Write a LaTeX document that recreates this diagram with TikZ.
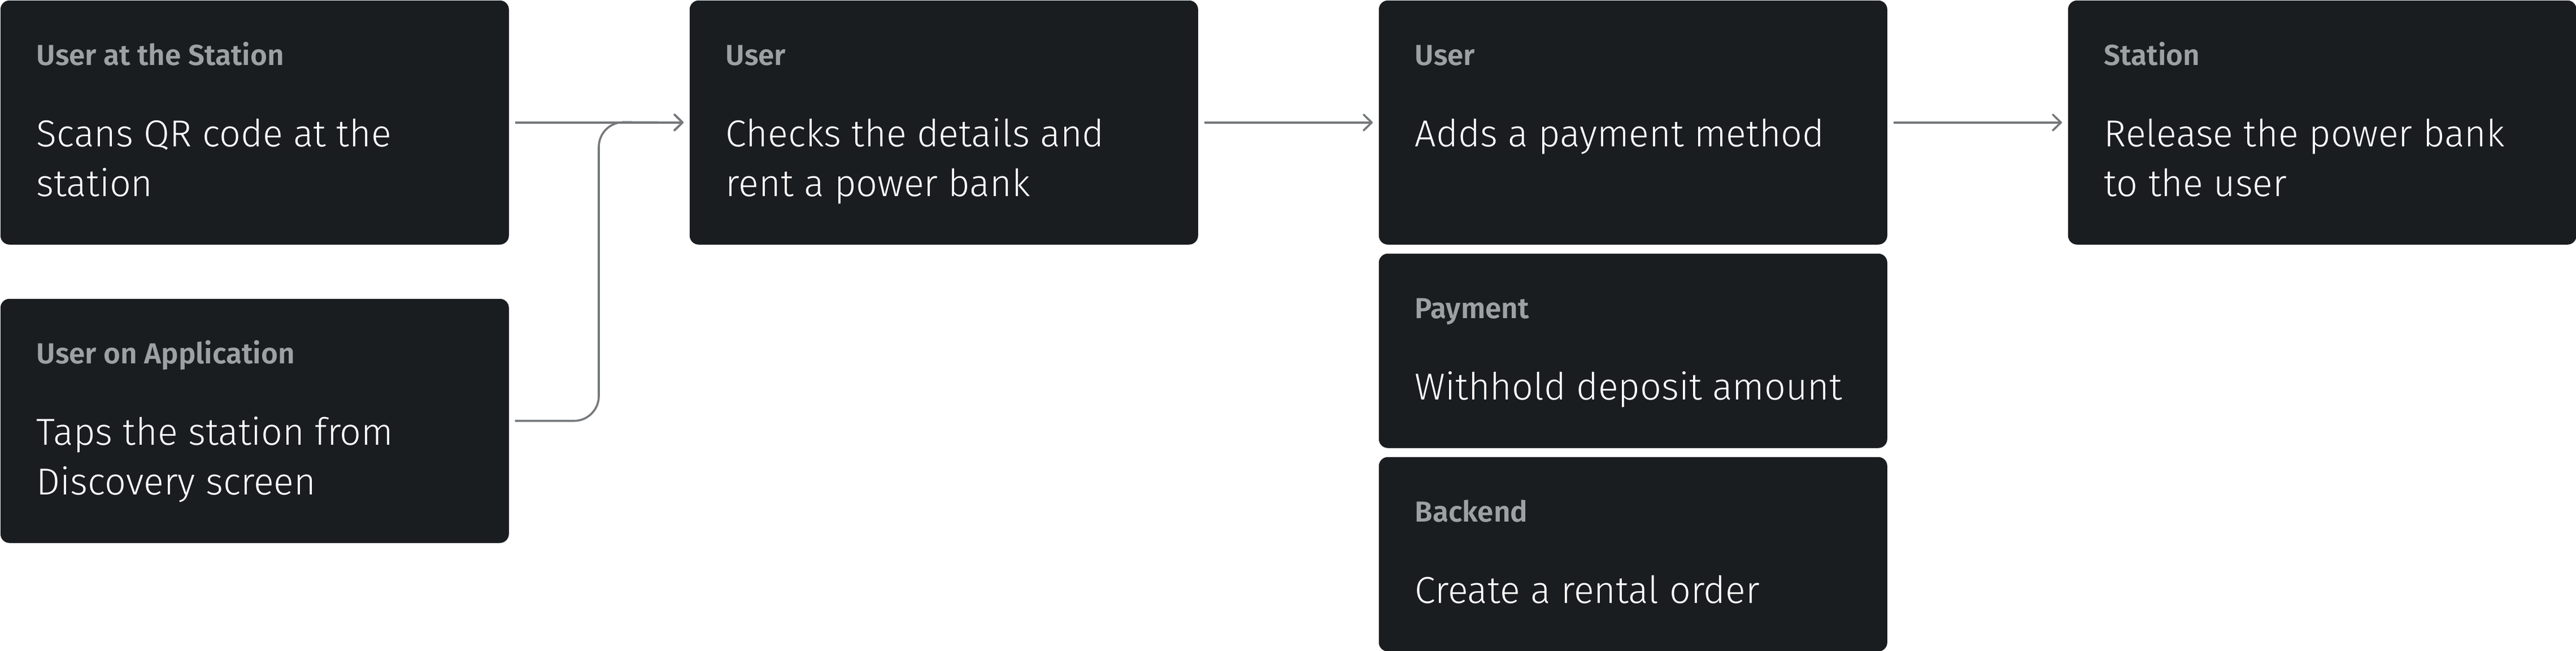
\documentclass[tikz,border=0pt]{standalone}
\usepackage{fontspec}
\setmainfont{Fira Sans Light}
\newfontfamily\ttlfont{Fira Sans SemiBold}
\usetikzlibrary{arrows.meta}
\definecolor{boxbg}{HTML}{1A1D20}
\definecolor{ttlgrey}{HTML}{9EA1A4}
\definecolor{linegrey}{HTML}{75797C}
\tikzset{
  card/.style={fill=boxbg, draw=none, rounded corners=4pt, minimum width=225pt, anchor=north west, inner sep=0pt},
  cardtall/.style={card, minimum height=108pt},
  cardshort/.style={card, minimum height=86pt},
  ttl/.style={anchor=base west, inner sep=0pt, text=ttlgrey, font=\ttlfont\fontsize{12.8pt}{14pt}\selectfont},
  body/.style={anchor=base west, inner sep=0pt, text=white, align=left, font=\fontsize{16.6pt}{22pt}\selectfont},
  conn/.style={draw=linegrey, line width=0.9pt, -{Straight Barb[length=3.6pt, width=7pt, line cap=round, line join=round]}}
}
\begin{document}
\begin{tikzpicture}
\fill[white] (0,0) rectangle (1140pt,-288pt);
\useasboundingbox (0,0) rectangle (1140pt,-288pt);

\node[cardtall] (b1) at (0pt,0pt) {};
\node[cardtall] (b2) at (0pt,-132pt) {};
\node[cardtall] (b3) at (305pt,0pt) {};
\node[cardtall] (b4) at (610pt,0pt) {};
\node[cardshort] (b5) at (610pt,-112pt) {};
\node[cardshort] (b6) at (610pt,-202pt) {};
\node[cardtall] (b7) at (915pt,0pt) {};

\node[ttl] (t1) at ([xshift=16pt,yshift=-29pt]b1.north west) {User at the Station};
\node[body] (x1) at ([xshift=16pt,yshift=-87pt]b1.north west) {Scans QR code at the\\station};
\node[ttl] (t2) at ([xshift=16pt,yshift=-29pt]b2.north west) {User on Application};
\node[body] (x2) at ([xshift=16pt,yshift=-87pt]b2.north west) {Taps the station from\\Discovery screen};
\node[ttl] (t3) at ([xshift=16pt,yshift=-29pt]b3.north west) {User};
\node[body] (x3) at ([xshift=16pt,yshift=-87pt]b3.north west) {Checks the details and\\rent a power bank};
\node[ttl] (t4) at ([xshift=16pt,yshift=-29pt]b4.north west) {User};
\node[body] (x4) at ([xshift=16pt,yshift=-65pt]b4.north west) {Adds a payment method};
\node[ttl] (t5) at ([xshift=16pt,yshift=-29pt]b5.north west) {Payment};
\node[body] (x5) at ([xshift=16pt,yshift=-65pt]b5.north west) {Withhold deposit amount};
\node[ttl] (t6) at ([xshift=16pt,yshift=-29pt]b6.north west) {Backend};
\node[body] (x6) at ([xshift=16pt,yshift=-65pt]b6.north west) {Create a rental order};
\node[ttl] (t7) at ([xshift=16pt,yshift=-29pt]b7.north west) {Station};
\node[body] (x7) at ([xshift=16pt,yshift=-87pt]b7.north west) {Release the power bank\\to the user};

\coordinate (j) at (265pt,-54pt);
\draw[conn] ([xshift=2.5pt]b1.east) -- ([xshift=-2.5pt]b3.west);
\draw[conn, rounded corners=11pt] ([xshift=2.5pt]b2.east) -| (j) -- ([xshift=-2.5pt]b3.west);
\draw[conn] ([xshift=2.5pt]b3.east) -- ([xshift=-2.5pt]b4.west);
\draw[conn] ([xshift=2.5pt]b4.east) -- ([xshift=-2.5pt]b7.west);
\end{tikzpicture}
\end{document}
